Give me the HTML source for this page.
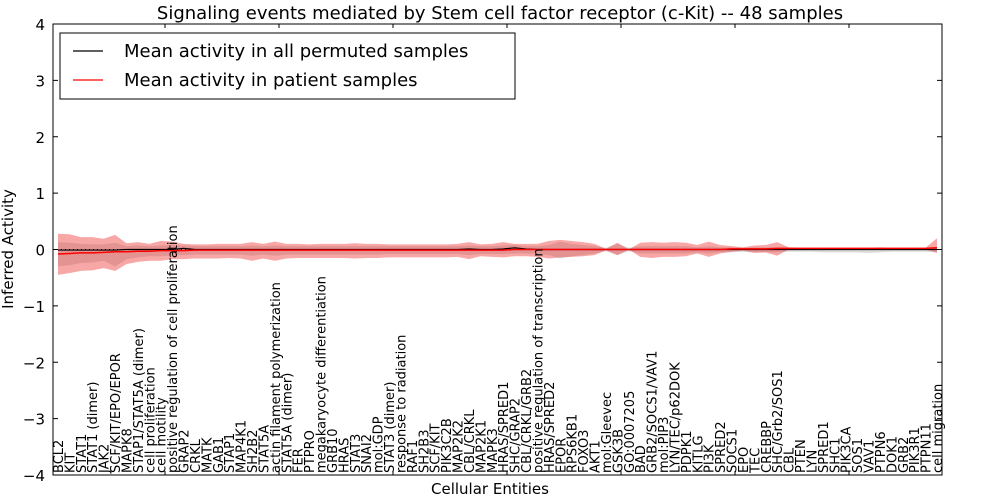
<!DOCTYPE html>
<html><head><meta charset="utf-8"><style>
body{margin:0;background:#fff;}
svg{display:block;font-family:"DejaVu Sans","Liberation Sans",sans-serif;}
</style></head><body>
<svg id="chart" width="1000" height="500" viewBox="0 0 1000 500">
<text x="500" y="19" font-size="18" text-anchor="middle">Signaling events mediated by Stem cell factor receptor (c-Kit) -- 48 samples</text>
<g id="plot"></g>
<text x="490" y="494" font-size="15" text-anchor="middle">Cellular Entities</text>
<text transform="translate(13,249) rotate(-90)" font-size="15" text-anchor="middle">Inferred Activity</text>
<g>
<rect x="60" y="33" width="455" height="66" fill="#fff" stroke="#000" stroke-width="1"/>
<g><line x1="73" y1="51" x2="103" y2="51" stroke="#000" stroke-width="1.2"/><text x="124" y="57" font-size="18">Mean activity in all permuted samples</text></g>
<g><line x1="73" y1="80" x2="103" y2="80" stroke="#f00" stroke-width="1.2"/><text x="124" y="86" font-size="18">Mean activity in patient samples</text></g>
</g>
</svg>
<script>
const categories=["BCL2","KIT","STAT1","STAT1 (dimer)","JAK2","SCF/KIT/EPO/EPOR","MAPK8","STAP1/STAT5A (dimer)","cell proliferation","cell motility","positive regulation of cell proliferation","GRAP2","CRKL","MATK","GAB1","STAP1","MAP4K1","SH2B2","STAT5A","actin filament polymerization","STAT5A (dimer)","FER","PTPRO","megakaryocyte differentiation","GRB10","HRAS","STAT3","SNAI2","mol:GDP","STAT3 (dimer)","response to radiation","RAF1","SH2B3","SCF/KIT","PIK3C2B","MAP2K2","CBL/CRKL","MAP2K1","MAPK3","HRAS/SPRED1","SHC/GRAP2","CBL/CRKL/GRB2","positive regulation of transcription","HRAS/SPRED2","EPOR","RPS6KB1","FOXO3","AKT1","mol:Gleevec","GSK3B","GO:0007205","BAD","GRB2/SOCS1/VAV1","mol:PIP3","LYN/TEC/p62DOK","PDPK1","KITLG","PI3K","SPRED2","SOCS1","EPO","TEC","CREBBP","SHC/Grb2/SOS1","CBL","PTEN","LYN","SPRED1","SHC1","PIK3CA","SOS1","VAV1","PTPN6","DOK1","GRB2","PIK3R1","PTPN11","cell migration"];
const patientMean=[-0.08,-0.07,-0.06,-0.06,-0.05,-0.04,-0.04,-0.03,-0.03,-0.02,-0.02,-0.02,-0.01,-0.01,-0.01,-0.01,-0.01,-0.01,-0.01,-0.01,-0.01,-0.01,-0.01,-0.01,-0.01,-0.01,-0.01,-0.01,-0.01,-0.01,-0.01,-0.01,-0.01,-0.01,-0.01,-0.01,-0.01,-0.01,-0.01,-0.01,0,0,0,0,0,0,0,0,0,0,0,0,0,0,0,0,0,0,0,0.01,0.01,0.01,0.01,0.02,0.02,0.02,0.02,0.02,0.02,0.02,0.02,0.02,0.02,0.02,0.02,0.02,0.02,0.03];
const patientUpper=[0.28,0.27,0.22,0.22,0.19,0.26,0.11,0.13,0.1,0.15,0.14,0.1,0.09,0.09,0.1,0.1,0.1,0.13,0.1,0.14,0.1,0.1,0.09,0.1,0.1,0.1,0.11,0.1,0.1,0.09,0.09,0.09,0.09,0.09,0.09,0.1,0.13,0.09,0.1,0.13,0.1,0.1,0.1,0.15,0.17,0.15,0.13,0.1,0.01,0.12,0.0,0.12,0.13,0.12,0.13,0.12,0.08,0.14,0.08,0.06,0.04,0.07,0.08,0.13,0.04,0.03,0.03,0.03,0.03,0.03,0.03,0.03,0.03,0.03,0.03,0.03,0.03,0.2];
const patientLower=[-0.45,-0.42,-0.38,-0.37,-0.33,-0.38,-0.26,-0.22,-0.2,-0.2,-0.17,-0.17,-0.16,-0.16,-0.16,-0.15,-0.16,-0.2,-0.16,-0.2,-0.16,-0.15,-0.15,-0.15,-0.15,-0.15,-0.16,-0.15,-0.15,-0.14,-0.14,-0.14,-0.14,-0.14,-0.14,-0.13,-0.17,-0.12,-0.13,-0.14,-0.12,-0.12,-0.13,-0.16,-0.14,-0.13,-0.12,-0.1,-0.01,-0.1,0.0,-0.13,-0.15,-0.13,-0.13,-0.12,-0.07,-0.13,-0.07,-0.04,-0.02,-0.06,-0.05,-0.11,0.0,0.0,0.0,0.0,0.0,0.0,0.0,0.0,0.0,0.0,0.0,0.0,0.0,-0.06];
const permMean=[-0.01,-0.01,-0.01,-0.01,-0.01,-0.01,0,0,0,0,0,0.02,0,0,0,0,0,0,0,0,0,0,0,0,0,0,0,0,0,0,0,0,0,0,0,0,0.01,0,0,0.01,0.03,0.01,0,0,0,0,0,0,0,0,0,0,0,0,0,0,0,0,0,0,0,0,0,0,0,0,0,0,0,0,0,0,0,0,0,0,0,0];
const permUpper=[0.13,0.12,0.1,0.09,0.09,0.12,0.06,0.07,0.06,0.07,0.08,0.07,0.06,0.06,0.06,0.06,0.06,0.07,0.06,0.07,0.06,0.06,0.06,0.06,0.06,0.06,0.06,0.06,0.06,0.06,0.06,0.06,0.06,0.06,0.06,0.06,0.07,0.06,0.06,0.07,0.08,0.06,0.06,0.08,0.14,0.1,0.08,0.06,0.03,0.1,0.03,0.06,0.06,0.06,0.06,0.06,0.04,0.06,0.04,0.04,0.03,0.04,0.04,0.04,0.03,0.03,0.03,0.03,0.03,0.03,0.03,0.03,0.04,0.03,0.03,0.03,0.03,0.04];
const permLower=[-0.3,-0.28,-0.24,-0.23,-0.2,-0.3,-0.17,-0.14,-0.12,-0.12,-0.1,-0.1,-0.09,-0.09,-0.09,-0.09,-0.09,-0.11,-0.09,-0.11,-0.09,-0.09,-0.09,-0.09,-0.09,-0.09,-0.09,-0.09,-0.09,-0.08,-0.08,-0.08,-0.08,-0.08,-0.08,-0.08,-0.1,-0.08,-0.08,-0.08,-0.07,-0.07,-0.08,-0.1,-0.16,-0.12,-0.1,-0.07,-0.03,-0.1,-0.03,-0.07,-0.07,-0.07,-0.07,-0.07,-0.05,-0.07,-0.05,-0.05,-0.04,-0.05,-0.05,-0.05,-0.04,-0.04,-0.04,-0.05,-0.05,-0.05,-0.05,-0.06,-0.05,-0.04,-0.04,-0.04,-0.04,-0.05];
const yTicks=[4,3,2,1,0,-1,-2,-3,-4];

const NS="http://www.w3.org/2000/svg";
const L=53,R=942,T=24,B=475;
const x0=58,dx=(937-58)/(categories.length-1);
function xs(i){return x0+i*dx;}
function ys(v){return T+(4-v)/8*(B-T);}
const g=document.getElementById('plot');
function mk(tag,attrs){const e=document.createElementNS(NS,tag);for(const k in attrs)e.setAttribute(k,attrs[k]);g.appendChild(e);return e;}
function band(up,lo,fill){let d='';up.forEach((v,i)=>{d+=(i?'L':'M')+xs(i)+','+ys(v);});for(let i=lo.length-1;i>=0;i--)d+='L'+xs(i)+','+ys(lo[i]);return d+'Z';}
function line(a){return a.map((v,i)=>(i?'L':'M')+xs(i)+','+ys(v)).join('');}
const gb=mk('path',{d:band(permUpper,permLower),fill:'rgba(150,150,150,0.35)'});


const rb=mk('path',{d:band(patientUpper,patientLower),fill:'rgba(240,60,60,0.45)'});


const zl=mk('line',{x1:L,x2:R,y1:ys(0),y2:ys(0),stroke:'#000','stroke-dasharray':'1,3','stroke-width':1});


const pl=mk('path',{d:line(permMean),fill:'none',stroke:'#000','stroke-width':1.2});


const rl=mk('path',{d:line(patientMean),fill:'none',stroke:'#f00','stroke-width':1.5});


const fr=mk('rect',{x:L,y:T,width:R-L,height:B-T,fill:'none',stroke:'#000','stroke-width':1});


yTicks.forEach(v=>{
  const t=mk('text',{x:L-8,y:ys(v)+6,'font-size':15,'text-anchor':'end'});
  t.textContent=(v<0?'\u2212'+(-v):String(v));
  
  
  mk('line',{x1:L,x2:L+5,y1:ys(v),y2:ys(v),stroke:'#000'});
  mk('line',{x1:R-5,x2:R,y1:ys(v),y2:ys(v),stroke:'#000'});
});
for(let xt=165;xt<R;xt+=114){mk('line',{x1:xt,x2:xt,y1:T,y2:T+4,stroke:'#000'});mk('line',{x1:xt,x2:xt,y1:B-4,y2:B,stroke:'#000'});}
categories.forEach((c,i)=>{
  const t=mk('text',{transform:'translate('+(xs(i)+5)+','+(B-2)+') rotate(-90)','font-size':13});
  t.textContent=c;
  
  
});
</script>
</body></html>
